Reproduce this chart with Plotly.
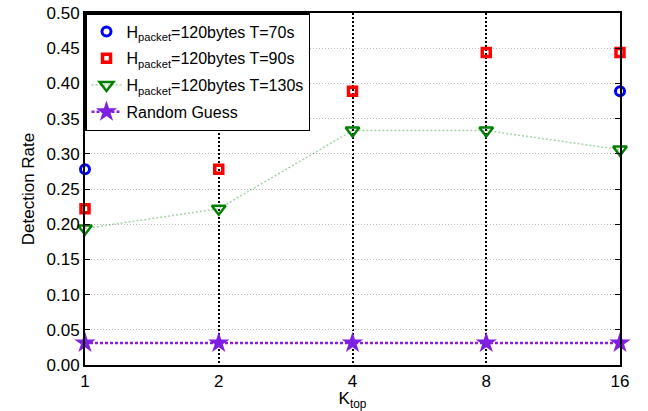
import plotly.graph_objects as go

k_top = [1, 2, 4, 8, 16]
tick_labels = ["1", "2", "4", "8", "16"]

t70_x = [1, 16]
t70_y = [0.278, 0.389]
t90_y = [0.222, 0.278, 0.389, 0.444, 0.444]
t130_y = [0.194, 0.222, 0.333, 0.333, 0.306]
random_y = [0.03125, 0.03125, 0.03125, 0.03125, 0.03125]

y_ticks = [0.0, 0.05, 0.10, 0.15, 0.20, 0.25, 0.30, 0.35, 0.40, 0.45, 0.50]

font = "Liberation Sans, Arial, Helvetica, sans-serif"

fig = go.Figure()
fig.add_trace(go.Scatter(
    x=t70_x, y=t70_y, mode="markers", cliponaxis=False, legendgroup="a",
    name="H<sub>packet</sub>=120bytes T=70s",
    marker=dict(symbol="circle-open", size=9, color="#0000ff", line=dict(width=3, color="#0000ff")),
))
fig.add_trace(go.Scatter(
    x=k_top, y=t90_y, mode="markers", cliponaxis=False, legendgroup="b",
    name="H<sub>packet</sub>=120bytes T=90s",
    marker=dict(symbol="square-open", size=8, color="#ff0000", line=dict(width=3.5, color="#ff0000")),
))
fig.add_trace(go.Scatter(
    x=k_top, y=t130_y, mode="lines+markers", cliponaxis=False, legendgroup="c",
    name="H<sub>packet</sub>=120bytes T=130s",
    line=dict(color="rgba(0,128,0,0.35)", width=1.5, dash="2px,2px"),
    marker=dict(symbol="triangle-down-open", size=12, color="#008000", line=dict(width=2.5, color="#008000")),
))
fig.add_trace(go.Scatter(
    x=k_top, y=random_y, mode="lines+markers", cliponaxis=False, legendgroup="d",
    name="Random Guess",
    line=dict(color="#8a1ee6", width=2.5, dash="3px,2px"),
    marker=dict(symbol="star", size=16, color="#7f1fe0", line=dict(width=0)),
))

fig.update_layout(
    width=648, height=411,
    margin=dict(l=85, r=28, t=13, b=46, autoexpand=False),
    paper_bgcolor="white", plot_bgcolor="white",
    font=dict(family=font, size=16, color="black"),
    showlegend=True,
    legend=dict(
        x=0.0, y=1.0, xanchor="left", yanchor="top",
        bgcolor="white", bordercolor="black", borderwidth=1.5,
        font=dict(size=16), tracegroupgap=3, itemwidth=30,
    ),
)
fig.update_xaxes(
    type="log", range=[0, 1.20412], automargin=False,
    tickvals=k_top, ticktext=tick_labels,
    showline=True, linecolor="black", linewidth=2, mirror=True,
    ticks="", showgrid=True, gridcolor="black", griddash="2px,2px", gridwidth=1.5,
    title=dict(text="K<sub>top</sub>", standoff=2, font=dict(size=17)),
    zeroline=False, tickfont=dict(size=17),
)
fig.update_yaxes(
    range=[0, 0.5], tickvals=y_ticks, tickformat=".2f", automargin=False,
    showline=True, linecolor="black", linewidth=2, mirror="ticks",
    ticks="inside", ticklen=5, tickcolor="black", tickwidth=1,
    showgrid=True, gridcolor="#b8b8b8", griddash="1px,2px", gridwidth=1,
    title=dict(text="Detection Rate", standoff=8, font=dict(size=17)),
    zeroline=False, tickfont=dict(size=17),
)

fig.write_html(
    "out.html",
    config={"displayModeBar": False},
    post_script="document.body.style.margin='0';document.body.style.overflow='hidden';",
)
